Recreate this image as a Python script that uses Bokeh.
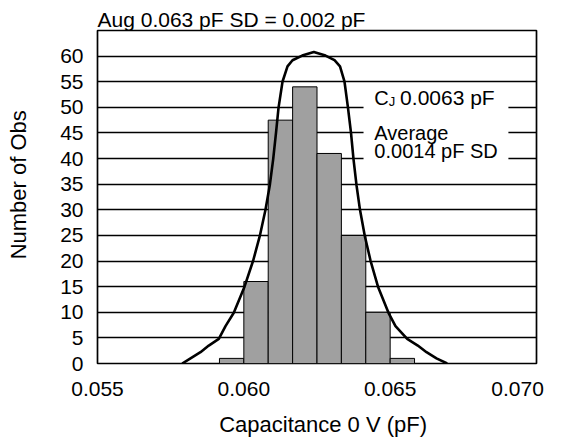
from bokeh.plotting import figure
from bokeh.embed import file_html
from bokeh.resources import INLINE
from bokeh.models import FixedTicker, NumeralTickFormatter, Label, BoxAnnotation

# ---- data ----
bin_left = [0.059167, 0.060000, 0.060833, 0.061667, 0.062500, 0.063333, 0.064167, 0.065000]
bin_right = [0.060000, 0.060833, 0.061667, 0.062500, 0.063333, 0.064167, 0.065000, 0.065833]
counts = [1, 16, 47.5, 54, 41, 25, 10, 1]

curve_x = [0.057894, 0.058178, 0.058519, 0.058803, 0.059145, 0.059374, 0.059657, 0.060023,
           0.060320, 0.060546, 0.060740, 0.060887, 0.061003, 0.061099, 0.061185, 0.061321,
           0.061492, 0.061663, 0.061994, 0.062391, 0.062790, 0.063098, 0.063286, 0.063440,
           0.063559, 0.063662, 0.063747, 0.063850, 0.063969, 0.064133, 0.064328, 0.064584,
           0.064943, 0.065182, 0.065582, 0.065944, 0.066242, 0.066583, 0.066949]
curve_y = [0, 1, 2.2, 3.5, 4.8, 7.3, 9.9, 15,
           20.1, 24.9, 30, 34.8, 39.9, 45, 49.9, 55,
           58, 59.2, 60.1, 60.8, 60.1, 59.2, 58, 55,
           49.9, 45, 39.9, 34.8, 30, 24.9, 20.1, 15,
           9.9, 7.3, 4.8, 3.5, 2.2, 1, 0]

x_ticks = [0.055, 0.060, 0.065, 0.070]
x_tick_labels = ["0.055", "0.060", "0.065", "0.070"]
y_ticks = [0, 5, 10, 15, 20, 25, 30, 35, 40, 45, 50, 55, 60]
grid_ticks = [5, 10, 15, 20, 25, 30, 35, 40, 45, 50, 55, 60]

title_text = "Aug 0.063 pF SD = 0.002 pF"
x_label = "Capacitance 0 V (pF)"
y_label = "Number of Obs"
note_c = "C"
note_j = "J"
note_val = "0.0063 pF"
note_avg = "Average"
note_sd = "0.0014 pF SD"

FONT = "Liberation Sans"
FSP = "\u2007"  # figure space, used only to nudge label placement

p = figure(width=555, height=439, x_range=(x_ticks[0], x_ticks[-1]), y_range=(0, 65),
           output_backend="svg", toolbar_location=None,
           min_border_left=97, min_border_right=19, min_border_top=30, min_border_bottom=71)

p.title.text = title_text
p.title.align = "left"
p.title.text_font = FONT
p.title.text_font_size = "21px"
p.title.text_font_style = "normal"
p.title.text_color = "black"
p.title.standoff = 0
p.title.offset = 0

p.outline_line_color = "black"
p.outline_line_width = 1.7
p.background_fill_color = "white"
p.border_fill_color = "white"

# grid
p.xgrid.visible = False
p.ygrid.ticker = FixedTicker(ticks=grid_ticks)
p.ygrid.grid_line_color = "black"
p.ygrid.grid_line_width = 1.3

# axes
for ax in (p.xaxis[0], p.yaxis[0]):
    ax.axis_line_color = None
    ax.major_tick_line_color = None
    ax.minor_tick_line_color = None
    ax.major_tick_out = 0
    ax.major_tick_in = 0
    ax.minor_tick_out = 0
    ax.minor_tick_in = 0
    ax.major_label_text_font = FONT
    ax.major_label_text_font_size = "21px"
    ax.major_label_text_color = "black"
    ax.axis_label_text_font = FONT
    ax.axis_label_text_font_size = "22px"
    ax.axis_label_text_font_style = "normal"
    ax.axis_label_text_color = "black"

p.xaxis.ticker = FixedTicker(ticks=x_ticks)
p.xaxis.formatter = NumeralTickFormatter(format="0.000")
p.xaxis.major_label_overrides = {x_ticks[-1]: x_tick_labels[-1] + FSP}
p.xaxis.major_label_standoff = 13
p.xaxis.axis_label = FSP + x_label
p.xaxis.axis_label_standoff = 9

p.yaxis.ticker = FixedTicker(ticks=y_ticks)
p.yaxis.major_label_standoff = 14
p.yaxis.axis_label = FSP + FSP + y_label
p.yaxis.axis_label_standoff = 26

# bars
p.quad(left=bin_left, right=bin_right, bottom=0, top=counts,
       fill_color="#a0a0a0", line_color="black", line_width=1)

# fitted curve
p.line(curve_x, curve_y, line_color="black", line_width=2.6)

# annotation with white background
box = BoxAnnotation(left=0.06409, right=0.06904, bottom=37, top=52.5,
                    fill_color="white", fill_alpha=1, line_color=None)
p.add_layout(box)
lab_kw = dict(text_font=FONT, text_color="black", text_baseline="alphabetic")
p.add_layout(Label(x=0.06446, y=51.9, text=note_c, text_font_size="20px", **lab_kw))
p.add_layout(Label(x=0.06495, y=51.9, y_offset=-4, text=note_j, text_font_size="13px", **lab_kw))
p.add_layout(Label(x=0.06534, y=51.9, text=note_val, text_font_size="21px", **lab_kw))
p.add_layout(Label(x=0.06446, y=45.0, text=note_avg, text_font_size="20px", **lab_kw))
p.add_layout(Label(x=0.06446, y=41.5, text=note_sd, text_font_size="20px", **lab_kw))

open("out.html", "w").write(file_html(p, INLINE))
